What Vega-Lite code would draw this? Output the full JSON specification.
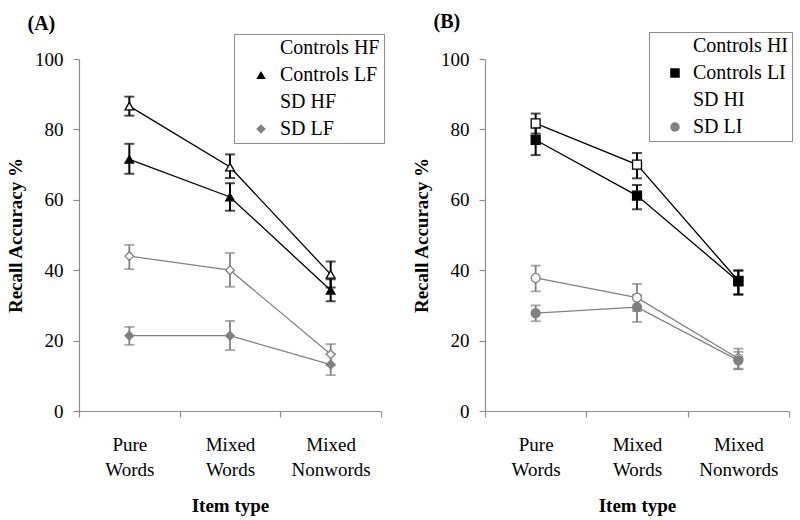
{
  "$schema": "https://vega.github.io/schema/vega-lite/v6.json",
  "background": "white",
  "padding": {"left": 6, "top": 11, "right": 5, "bottom": 5},
  "config": {
    "font": "Liberation Serif",
    "view": {"stroke": null},
    "axis": {
      "labelFont": "Liberation Serif", "labelFontSize": 19, "labelColor": "black",
      "titleFont": "Liberation Serif", "titleFontSize": 19, "titleFontWeight": "bold", "titleColor": "black",
      "domainColor": "#8c8c8c", "tickColor": "#8c8c8c", "grid": false, "tickSize": 6, "domainWidth": 1.2, "tickWidth": 1.2
    },
    "title": {"font": "Liberation Serif", "fontSize": 20, "fontWeight": "bold", "color": "black"}
  },
  "data": {"values": [
    {"panel": "A", "series": "Controls HF", "item": "Pure Words", "value": 86.6, "lo": 83.9, "hi": 89.3},
    {"panel": "A", "series": "Controls HF", "item": "Mixed Words", "value": 69.3, "lo": 66.2, "hi": 72.9},
    {"panel": "A", "series": "Controls HF", "item": "Mixed Nonwords", "value": 38.8, "lo": 35.1, "hi": 42.5},
    {"panel": "A", "series": "Controls LF", "item": "Pure Words", "value": 71.5, "lo": 67.4, "hi": 75.9},
    {"panel": "A", "series": "Controls LF", "item": "Mixed Words", "value": 60.8, "lo": 56.9, "hi": 64.7},
    {"panel": "A", "series": "Controls LF", "item": "Mixed Nonwords", "value": 34.3, "lo": 31.2, "hi": 37.4},
    {"panel": "A", "series": "SD HF", "item": "Pure Words", "value": 44.0, "lo": 40.3, "hi": 47.2},
    {"panel": "A", "series": "SD HF", "item": "Mixed Words", "value": 40.0, "lo": 35.3, "hi": 44.9},
    {"panel": "A", "series": "SD HF", "item": "Mixed Nonwords", "value": 16.1, "lo": 13.0, "hi": 19.0},
    {"panel": "A", "series": "SD LF", "item": "Pure Words", "value": 21.4, "lo": 18.8, "hi": 23.9},
    {"panel": "A", "series": "SD LF", "item": "Mixed Words", "value": 21.4, "lo": 17.3, "hi": 25.6},
    {"panel": "A", "series": "SD LF", "item": "Mixed Nonwords", "value": 13.2, "lo": 10.2, "hi": 16.2},
    {"panel": "B", "series": "Controls HI", "item": "Pure Words", "value": 81.7, "lo": 78.8, "hi": 84.5},
    {"panel": "B", "series": "Controls HI", "item": "Mixed Words", "value": 70.0, "lo": 66.1, "hi": 73.3},
    {"panel": "B", "series": "Controls HI", "item": "Mixed Nonwords", "value": 37.0, "lo": 33.1, "hi": 39.9},
    {"panel": "B", "series": "Controls LI", "item": "Pure Words", "value": 77.0, "lo": 72.7, "hi": 80.5},
    {"panel": "B", "series": "Controls LI", "item": "Mixed Words", "value": 61.2, "lo": 57.3, "hi": 64.2},
    {"panel": "B", "series": "Controls LI", "item": "Mixed Nonwords", "value": 36.8, "lo": 33.1, "hi": 39.9},
    {"panel": "B", "series": "SD HI", "item": "Pure Words", "value": 37.8, "lo": 34.0, "hi": 41.3},
    {"panel": "B", "series": "SD HI", "item": "Mixed Words", "value": 32.2, "lo": 28.4, "hi": 36.1},
    {"panel": "B", "series": "SD HI", "item": "Mixed Nonwords", "value": 14.9, "lo": 11.8, "hi": 17.7},
    {"panel": "B", "series": "SD LI", "item": "Pure Words", "value": 27.8, "lo": 25.5, "hi": 30.0},
    {"panel": "B", "series": "SD LI", "item": "Mixed Words", "value": 29.5, "lo": 25.3, "hi": 33.0},
    {"panel": "B", "series": "SD LI", "item": "Mixed Nonwords", "value": 14.4, "lo": 12.0, "hi": 16.8}
  ]},
  "spacing": 27,
  "hconcat": [
    {
      "title": {"text": "(A)", "anchor": "start", "frame": "bounds", "dx": 21, "offset": 0},
      "width": 302, "height": 352,
      "transform": [{"filter": "datum.panel == 'A'"}],
      "encoding": {
        "x": {"field": "item", "type": "nominal", "sort": ["Pure Words", "Mixed Words", "Mixed Nonwords"],
              "scale": {"type": "band", "paddingInner": 0, "paddingOuter": 0},
              "axis": {"title": "Item type", "labelAngle": 0, "labelExpr": "split(datum.label, ' ')", "tickBand": "extent", "labelPadding": 18, "labelLineHeight": 25, "titlePadding": 17}}
      },
      "layer": [
        {"transform": [{"filter": "indexof(datum.series, 'Controls') == 0"}],
         "mark": {"type": "errorbar", "ticks": {"size": 10}, "thickness": 2, "color": "black"},
         "encoding": {"y": {"field": "lo", "type": "quantitative", "title": "Recall Accuracy %", "scale": {"domain": [0, 100], "nice": false}}, "y2": {"field": "hi"}, "detail": {"field": "series"}}},
        {"transform": [{"filter": "indexof(datum.series, 'SD') == 0"}],
         "mark": {"type": "errorbar", "ticks": {"size": 10}, "thickness": 1.8, "color": "#808080"},
         "encoding": {"y": {"field": "lo", "type": "quantitative", "title": "Recall Accuracy %"}, "y2": {"field": "hi"}, "detail": {"field": "series"}}},
        {"mark": {"type": "line", "strokeWidth": 1.3},
         "encoding": {
           "y": {"field": "value", "type": "quantitative", "title": "Recall Accuracy %", "scale": {"domain": [0, 100], "nice": false}, "axis": {"values": [0, 20, 40, 60, 80, 100], "labelPadding": 10, "titlePadding": 9}},
           "stroke": {"field": "series", "type": "nominal", "scale": {"range": ["black", "black", "#808080", "#808080"]},
             "legend": {"title": null, "orient": "none", "legendX": 155, "legendY": -25, "symbolSize": 90, "symbolOffset": 13, "labelOffset": 9, "padding": 4, "rowPadding": 7, "strokeColor": "#8c8c8c", "fillColor": "white", "labelFontSize": 20, "labelFont": "Liberation Serif", "symbolStrokeWidth": 1.3, "symbolOpacity": 1}}
         }},
        {"mark": {"type": "point", "filled": false, "size": 75, "strokeWidth": 1.3, "opacity": 1},
         "encoding": {
           "y": {"field": "value", "type": "quantitative", "title": "Recall Accuracy %"},
           "stroke": {"field": "series", "type": "nominal",
             "legend": {"title": null, "orient": "none", "legendX": 155, "legendY": -25, "symbolSize": 90, "symbolOffset": 13, "labelOffset": 9, "padding": 4, "rowPadding": 7, "strokeColor": "#8c8c8c", "fillColor": "white", "labelFontSize": 20, "labelFont": "Liberation Serif", "symbolStrokeWidth": 1.3, "symbolOpacity": 1}},
           "fill": {"field": "series", "type": "nominal", "scale": {"range": ["white", "black", "white", "#808080"]},
             "legend": {"title": null, "orient": "none", "legendX": 155, "legendY": -25, "symbolSize": 90, "symbolOffset": 13, "labelOffset": 9, "padding": 4, "rowPadding": 7, "strokeColor": "#8c8c8c", "fillColor": "white", "labelFontSize": 20, "labelFont": "Liberation Serif", "symbolStrokeWidth": 1.3, "symbolOpacity": 1}},
           "shape": {"field": "series", "type": "nominal", "scale": {"range": ["triangle-up", "triangle-up", "diamond", "diamond"]},
             "legend": {"title": null, "orient": "none", "legendX": 155, "legendY": -25, "symbolSize": 90, "symbolOffset": 13, "labelOffset": 9, "padding": 4, "rowPadding": 7, "strokeColor": "#8c8c8c", "fillColor": "white", "labelFontSize": 20, "labelFont": "Liberation Serif", "symbolStrokeWidth": 1.3, "symbolOpacity": 1}}
         }}
      ]
    },
    {
      "title": {"text": "(B)", "anchor": "start", "frame": "bounds", "dx": 21, "offset": 0},
      "width": 304, "height": 352,
      "transform": [{"filter": "datum.panel == 'B'"}],
      "encoding": {
        "x": {"field": "item", "type": "nominal", "sort": ["Pure Words", "Mixed Words", "Mixed Nonwords"],
              "scale": {"type": "band", "paddingInner": 0, "paddingOuter": 0},
              "axis": {"title": "Item type", "labelAngle": 0, "labelExpr": "split(datum.label, ' ')", "tickBand": "extent", "labelPadding": 18, "labelLineHeight": 25, "titlePadding": 17}}
      },
      "layer": [
        {"transform": [{"filter": "indexof(datum.series, 'Controls') == 0"}],
         "mark": {"type": "errorbar", "ticks": {"size": 10}, "thickness": 2, "color": "black"},
         "encoding": {"y": {"field": "lo", "type": "quantitative", "title": "Recall Accuracy %", "scale": {"domain": [0, 100], "nice": false}}, "y2": {"field": "hi"}, "detail": {"field": "series"}}},
        {"transform": [{"filter": "indexof(datum.series, 'SD') == 0"}],
         "mark": {"type": "errorbar", "ticks": {"size": 10}, "thickness": 1.8, "color": "#808080"},
         "encoding": {"y": {"field": "lo", "type": "quantitative", "title": "Recall Accuracy %"}, "y2": {"field": "hi"}, "detail": {"field": "series"}}},
        {"mark": {"type": "line", "strokeWidth": 1.3},
         "encoding": {
           "y": {"field": "value", "type": "quantitative", "title": "Recall Accuracy %", "scale": {"domain": [0, 100], "nice": false}, "axis": {"values": [0, 20, 40, 60, 80, 100], "labelPadding": 10, "titlePadding": 9}},
           "stroke": {"field": "series", "type": "nominal", "scale": {"range": ["black", "black", "#808080", "#808080"]},
             "legend": {"title": null, "orient": "none", "legendX": 164, "legendY": -27, "symbolSize": 90, "symbolOffset": 12, "labelOffset": 8, "padding": 4, "rowPadding": 7, "strokeColor": "#8c8c8c", "fillColor": "white", "labelFontSize": 20, "labelFont": "Liberation Serif", "symbolStrokeWidth": 1.3, "symbolOpacity": 1}}
         }},
        {"mark": {"type": "point", "filled": false, "size": 80, "strokeWidth": 1.3, "opacity": 1},
         "encoding": {
           "y": {"field": "value", "type": "quantitative", "title": "Recall Accuracy %"},
           "stroke": {"field": "series", "type": "nominal",
             "legend": {"title": null, "orient": "none", "legendX": 164, "legendY": -27, "symbolSize": 90, "symbolOffset": 12, "labelOffset": 8, "padding": 4, "rowPadding": 7, "strokeColor": "#8c8c8c", "fillColor": "white", "labelFontSize": 20, "labelFont": "Liberation Serif", "symbolStrokeWidth": 1.3, "symbolOpacity": 1}},
           "fill": {"field": "series", "type": "nominal", "scale": {"range": ["white", "black", "white", "#808080"]},
             "legend": {"title": null, "orient": "none", "legendX": 164, "legendY": -27, "symbolSize": 90, "symbolOffset": 12, "labelOffset": 8, "padding": 4, "rowPadding": 7, "strokeColor": "#8c8c8c", "fillColor": "white", "labelFontSize": 20, "labelFont": "Liberation Serif", "symbolStrokeWidth": 1.3, "symbolOpacity": 1}},
           "shape": {"field": "series", "type": "nominal", "scale": {"range": ["square", "square", "circle", "circle"]},
             "legend": {"title": null, "orient": "none", "legendX": 164, "legendY": -27, "symbolSize": 90, "symbolOffset": 12, "labelOffset": 8, "padding": 4, "rowPadding": 7, "strokeColor": "#8c8c8c", "fillColor": "white", "labelFontSize": 20, "labelFont": "Liberation Serif", "symbolStrokeWidth": 1.3, "symbolOpacity": 1}}
         }}
      ]
    }
  ],
  "resolve": {"scale": {"stroke": "independent", "fill": "independent", "shape": "independent"}, "legend": {"stroke": "independent", "fill": "independent", "shape": "independent"}}
}
